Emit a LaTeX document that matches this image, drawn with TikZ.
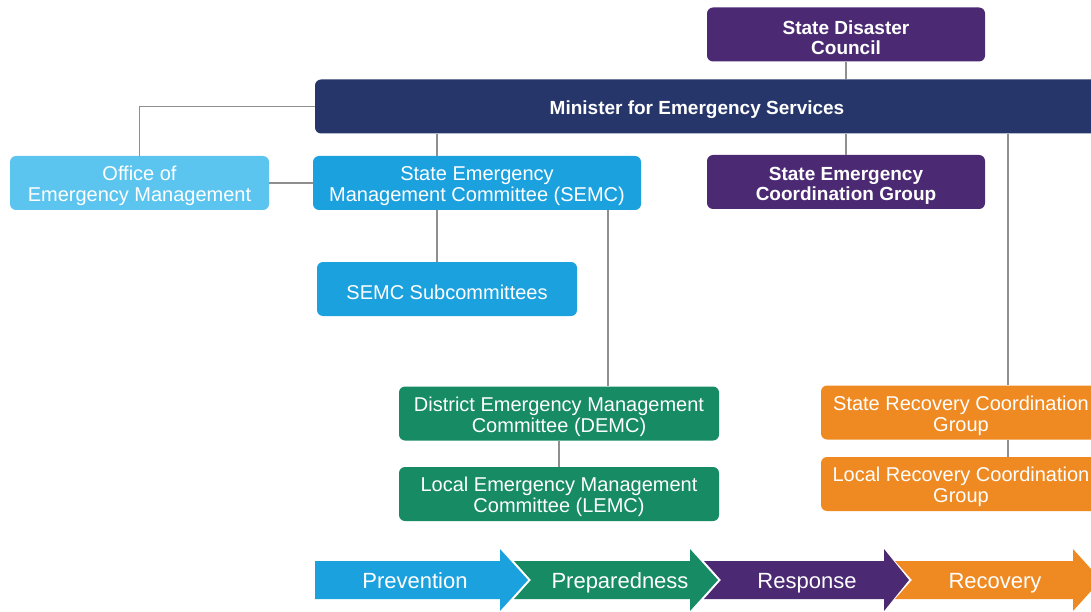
\documentclass[tikz,border=0pt]{standalone}
\usepackage{fontspec}
\setmainfont{Liberation Sans}
\usetikzlibrary{calc}
\definecolor{dpurple}{HTML}{4B2A73}
\definecolor{navy}{HTML}{27366A}
\definecolor{lblue}{HTML}{5CC5EF}
\definecolor{mblue}{HTML}{1CA1DF}
\definecolor{dgreen}{HTML}{168B64}
\definecolor{orng}{HTML}{EF8A23}
\definecolor{lgray}{HTML}{8F8F8F}
\newcommand{\boxstrut}{\rule{0pt}{21pt}}

\begin{document}
\begin{tikzpicture}[x=1pt, y=-1pt,
    orgbox/.style={rectangle, rounded corners=6pt, fill=#1, text=white, align=center,
      inner sep=0pt, minimum height=54, font=\fontsize{20}{21}\selectfont},
    strongtext/.style={font=\fontsize{19}{20}\selectfont\bfseries},
    link/.style={draw=lgray, line width=1.2pt},
    phaselabel/.style={text=white, inner sep=0pt, anchor=base, font=\fontsize{22}{24}\selectfont}]
  \useasboundingbox (0,0) rectangle (1091,612);

  \node[orgbox=dpurple, strongtext, minimum width=278] (sdc) at (846,34.5) {\boxstrut State Disaster\\Council};
  \node[orgbox=navy, strongtext, minimum width=804] (min) at (717,106.5) {\boxstrut Minister for Emergency Services\hspace*{40pt}};
  \node[orgbox=lblue, minimum width=259] (office) at (139.5,183) {\boxstrut Office of\\Emergency Management};
  \node[orgbox=mblue, minimum width=328] (semc) at (477,183) {\boxstrut State Emergency\\Management Committee (SEMC)};
  \node[orgbox=mblue, minimum width=260] (subc) at (447,289) {\boxstrut SEMC Subcommittees};
  \node[orgbox=dpurple, strongtext, minimum width=278] (secg) at (846,182) {\boxstrut State Emergency\\Coordination Group};
  \node[orgbox=dgreen, minimum width=320] (demc) at (559,413.5) {\boxstrut District Emergency Management\\Committee (DEMC)};
  \node[orgbox=dgreen, minimum width=320] (lemc) at (559,494) {\boxstrut Local Emergency Management\\Committee (LEMC)};
  \node[orgbox=orng, minimum width=280] (srcg) at (961,412.5) {\boxstrut State Recovery Coordination\\Group};
  \node[orgbox=orng, minimum width=280] (lrcg) at (961,484) {\boxstrut Local Recovery Coordination\\Group};

  % vertical trunks
  \coordinate (semctrunk) at (437,0);
  \coordinate (demctrunk) at (608,0);
  \coordinate (rectrunk) at (1008,0);

  \draw[link] (sdc.south) -- (sdc.south |- min.north);
  \draw[link] (min.west) -| (office.north);
  \draw[link] (office.east) -- (semc.west);
  \draw[link] (min.south -| semctrunk) -- (semc.north -| semctrunk);
  \draw[link] (semc.south -| semctrunk) -- (subc.north -| semctrunk);
  \draw[link] (min.south -| secg.north) -- (secg.north);
  \draw[link] (semc.south -| demctrunk) -- (demc.north -| demctrunk);
  \draw[link] (demc.south) -- (lemc.north);
  \draw[link] (min.south -| rectrunk) -- (srcg.north -| rectrunk);
  \draw[link] (srcg.south -| rectrunk) -- (lrcg.north -| rectrunk);

  % phase arrows
  \foreach \lbl/\cx/\nx/\lx/\bx/\tx/\col/\nm in {
      Prevention/415/315/315/500/528/mblue/prev,
      Preparedness/620/531/514/690/718/dgreen/prep,
      Response/807/721/704/884/909/dpurple/resp,
      Recovery/995/912/895/1073/1101/orng/recv} {
    \fill[\col] (\lx,561) -- (\bx,561) -- (\bx,549) -- (\tx,580) -- (\bx,611)
      -- (\bx,599) -- (\lx,599) -- (\nx,580) -- cycle;
    \node[phaselabel] (\nm) at (\cx,588) {\lbl};
  }
\end{tikzpicture}
\end{document}
